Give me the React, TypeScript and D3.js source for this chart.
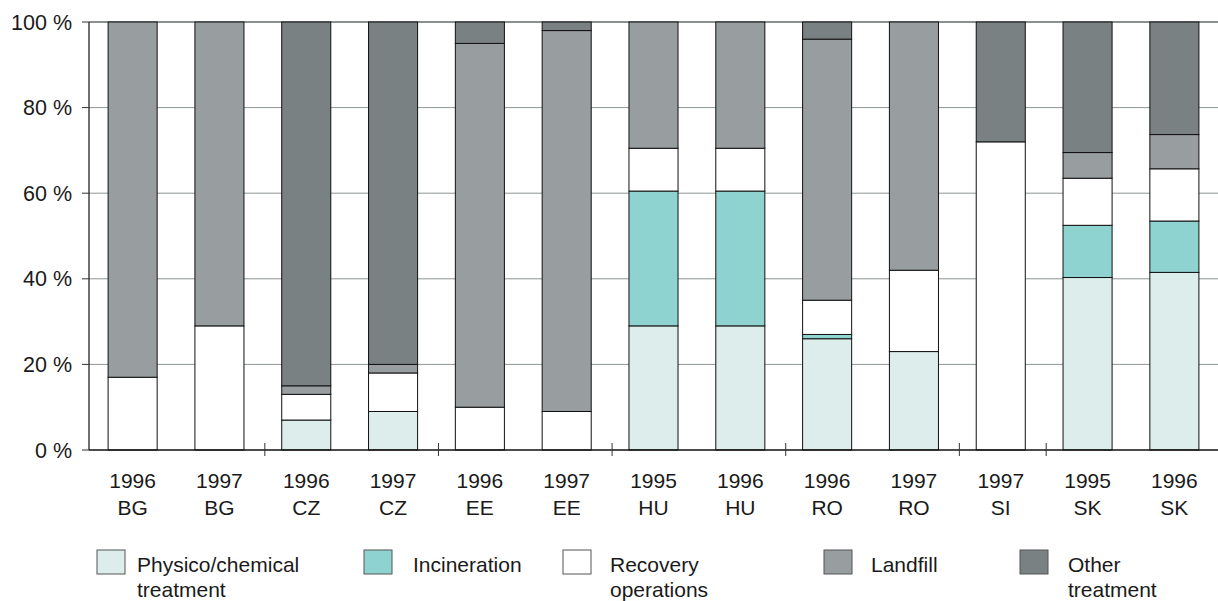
import React from "react";
import * as d3 from "d3";

const years = ["1996", "1997", "1996", "1997", "1996", "1997", "1995", "1996", "1996", "1997", "1997", "1995", "1996"];
const countries = ["BG", "BG", "CZ", "CZ", "EE", "EE", "HU", "HU", "RO", "RO", "SI", "SK", "SK"];

// shares in percent, bottom to top
const physico = [0, 0, 7, 9, 0, 0, 29, 29, 26, 23, 0, 40.3, 41.5];
const incineration = [0, 0, 0, 0, 0, 0, 31.5, 31.5, 1, 0, 0, 12.2, 12];
const recovery = [17, 29, 6, 9, 10, 9, 10, 10, 8, 19, 72, 11, 12.2];
const landfill = [83, 71, 2, 2, 85, 89, 29.5, 29.5, 61, 58, 0, 6, 8];
const other = [0, 0, 85, 80, 5, 2, 0, 0, 4, 0, 28, 30.5, 26.3];

const yTicks = [0, 20, 40, 60, 80, 100];

const seriesInfo = [
  { key: "physico", label: ["Physico/chemical", "treatment"], color: "#ddedeb", values: physico },
  { key: "incineration", label: ["Incineration"], color: "#8fd3d1", values: incineration },
  { key: "recovery", label: ["Recovery", "operations"], color: "#ffffff", values: recovery },
  { key: "landfill", label: ["Landfill"], color: "#989d9f", values: landfill },
  { key: "other", label: ["Other", "treatment"], color: "#7a8183", values: other },
];

const W = 1218;
const H = 601;
const margin = { top: 22, right: 0, bottom: 151, left: 89 };
const font = "'Liberation Sans', Arial, sans-serif";

export default function App() {
  const ids = years.map((_, i) => String(i));
  const rows = ids.map((id, i) => {
    const r: Record<string, number | string> = { id };
    seriesInfo.forEach((s) => (r[s.key] = s.values[i]));
    return r;
  });
  const stacked = d3.stack<any>().keys(seriesInfo.map((s) => s.key))(rows);

  const x = d3
    .scaleBand()
    .domain(ids)
    .range([margin.left, W - margin.right])
    .paddingInner(0.435)
    .paddingOuter(0.22);
  const y = d3.scaleLinear().domain([0, 100]).range([H - margin.bottom, margin.top]);
  const step = x.step();
  const x0 = margin.left;
  const gapMid = (i: number) => (x(ids[i]) ?? 0) - (step - x.bandwidth()) / 2 + 2;

  // ticks between country groups
  const seps: number[] = [];
  for (let i = 1; i < countries.length; i++) {
    if (countries[i] !== countries[i - 1]) seps.push(gapMid(i));
  }

  const legendBoxX = [97, 364, 563, 824, 1020];
  const legendTextX = [137, 413, 610, 871, 1068];

  return (
    <svg width={W} height={H} style={{ position: "absolute", left: 0, top: 0, background: "#fff" }} fontFamily={font}>
      {/* grid */}
      {yTicks.filter((t) => t > 0 && t < 100).map((t) => (
        <line key={t} x1={x0} x2={W} y1={y(t)} y2={y(t)} stroke="#8e9595" strokeWidth={1} />
      ))}
      <line x1={x0} x2={W} y1={y(100)} y2={y(100)} stroke="#666b6b" strokeWidth={1.5} />

      {/* bars */}
      {stacked.map((layer, li) => (
        <g key={layer.key} fill={seriesInfo[li].color}>
          {layer.map((d, i) =>
            d[1] - d[0] > 0 ? (
              <rect
                key={i}
                x={x(ids[i])}
                y={y(d[1])}
                width={x.bandwidth()}
                height={y(d[0]) - y(d[1])}
                stroke="#111"
                strokeWidth={1}
              />
            ) : null
          )}
        </g>
      ))}

      {/* axes */}
      <line x1={x0} x2={x0} y1={y(100)} y2={y(0)} stroke="#111" strokeWidth={1.2} />
      <line x1={x0} x2={W} y1={y(0)} y2={y(0)} stroke="#111" strokeWidth={1.5} />
      {yTicks.map((t) => (
        <g key={t}>
          <line x1={x0 - 7} x2={x0} y1={y(t)} y2={y(t)} stroke="#333" strokeWidth={1} />
          <text x={72} y={y(t) + 7.5} textAnchor="end" fontSize={21.5} fill="#1a1a1a">
            {t} %
          </text>
        </g>
      ))}
      {seps.map((s) => (
        <line key={s} x1={s} x2={s} y1={y(0) - 7} y2={y(0) + 6} stroke="#333" strokeWidth={1} />
      ))}
      {ids.map((id, i) => {
        const cx = (x(id) ?? 0) + x.bandwidth() / 2;
        return (
          <text key={id} textAnchor="middle" fontSize={21} fill="#1a1a1a">
            <tspan x={cx} y={488}>{years[i]}</tspan>
            <tspan x={cx} y={515}>{countries[i]}</tspan>
          </text>
        );
      })}

      {/* legend */}
      {seriesInfo.map((s, i) => (
        <g key={s.key}>
          <rect x={legendBoxX[i]} y={550} width={28} height={24} fill={s.color} stroke="#555" strokeWidth={1} />
          {s.label.map((l, j) => (
            <text key={j} x={legendTextX[i]} y={571.5 + j * 25} fontSize={21} fill="#1a1a1a">
              {l}
            </text>
          ))}
        </g>
      ))}
    </svg>
  );
}
